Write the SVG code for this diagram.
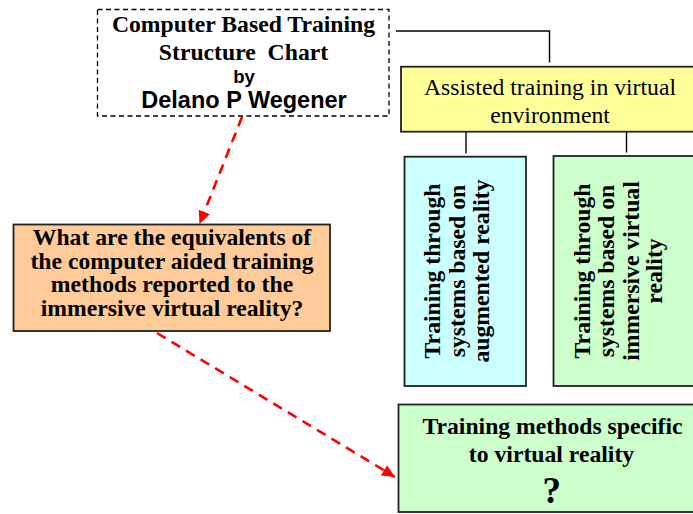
<svg xmlns="http://www.w3.org/2000/svg" width="693" height="514" viewBox="0 0 693 514">
<style>
.box{stroke:#222;stroke-width:1.8}
.serifb{font-family:"Liberation Serif","Times New Roman",serif;font-weight:bold;font-size:23.7px;fill:#000}
.serif{font-family:"Liberation Serif","Times New Roman",serif;font-size:23.7px;fill:#000}
.sansb{font-family:"Liberation Sans",Arial,sans-serif;font-weight:bold;fill:#000}
.big{font-size:37px}
.conn{stroke:#000;stroke-width:1.4;fill:none}
.red{stroke:#ff0000;stroke-width:2.6;fill:none;stroke-dasharray:10,7}
</style>
<defs>
<marker id="ah" markerUnits="userSpaceOnUse" markerWidth="14" markerHeight="12" refX="13" refY="6" orient="auto">
<path d="M0,0 L13,6 L0,12 z" fill="#ff0000"/>
</marker>
</defs>
<rect width="693" height="514" fill="#fff"/>
<g id="connectors">
<polyline class="conn" points="396,31 549.5,31 549.5,62.5"/>
<line class="conn" x1="466" y1="132" x2="466" y2="153.5"/>
<line class="conn" x1="626.5" y1="132" x2="626.5" y2="152.5"/>
<line class="red" x1="242" y1="117" x2="199.5" y2="224" marker-end="url(#ah)"/>
<line class="red" x1="157" y1="333" x2="395" y2="477" marker-end="url(#ah)"/>
</g>
<g id="title">
<rect x="97.5" y="9.5" width="291.5" height="106.5" fill="#fff" stroke="#000" stroke-width="1.3" stroke-dasharray="5,3.5"/>
<text class="serifb" text-anchor="middle" x="243.5" y="31.7">Computer Based Training</text>
<text class="serifb" text-anchor="middle" x="243.5" y="60" xml:space="preserve">Structure  Chart</text>
<text class="sansb" text-anchor="middle" x="244" y="83.3" font-size="18.6">by</text>
<text class="sansb" text-anchor="middle" x="244" y="108.3" font-size="23.5">Delano P Wegener</text>
</g>
<g id="assisted">
<rect class="box" x="401" y="66.7" width="298" height="65" fill="#ffff99"/>
<text class="serif" text-anchor="middle" x="550" y="95">Assisted training in virtual</text>
<text class="serif" text-anchor="middle" x="550" y="122.7">environment</text>
</g>
<g id="augmented">
<rect class="box" x="404.5" y="156.7" width="121.5" height="229.3" fill="#ccffff"/>
<text class="serifb" text-anchor="middle" transform="translate(0,271) rotate(-90)"><tspan x="0" y="440">Training through</tspan><tspan x="0" y="464.5">systems based on</tspan><tspan x="0" y="489">augmented reality</tspan></text>
</g>
<g id="immersive">
<rect class="box" x="553.5" y="156" width="146" height="230" fill="#ccffcc"/>
<text class="serifb" text-anchor="middle" transform="translate(0,271) rotate(-90)"><tspan x="0" y="589.5">Training through</tspan><tspan x="0" y="614">systems based on</tspan><tspan x="0" y="638.5">immersive virtual</tspan><tspan x="0" y="662">reality</tspan></text>
</g>
<g id="question">
<rect class="box" x="13.5" y="224.5" width="316.5" height="106.5" fill="#ffcc99"/>
<text class="serifb" text-anchor="middle" x="172" y="245">What are the equivalents of</text>
<text class="serifb" text-anchor="middle" x="172" y="268.5">the computer aided training</text>
<text class="serifb" text-anchor="middle" x="172" y="292">methods reported to the</text>
<text class="serifb" text-anchor="middle" x="172" y="315.5">immersive virtual reality?</text>
</g>
<g id="specific">
<rect class="box" x="398.5" y="404.5" width="307" height="107.5" fill="#ccffcc"/>
<text class="serifb" text-anchor="middle" x="552.5" y="434.3">Training methods specific</text>
<text class="serifb" text-anchor="middle" x="551.5" y="461.7">to virtual reality</text>
<text class="serifb big" text-anchor="middle" x="551.7" y="503.3">?</text>
</g>
</svg>
